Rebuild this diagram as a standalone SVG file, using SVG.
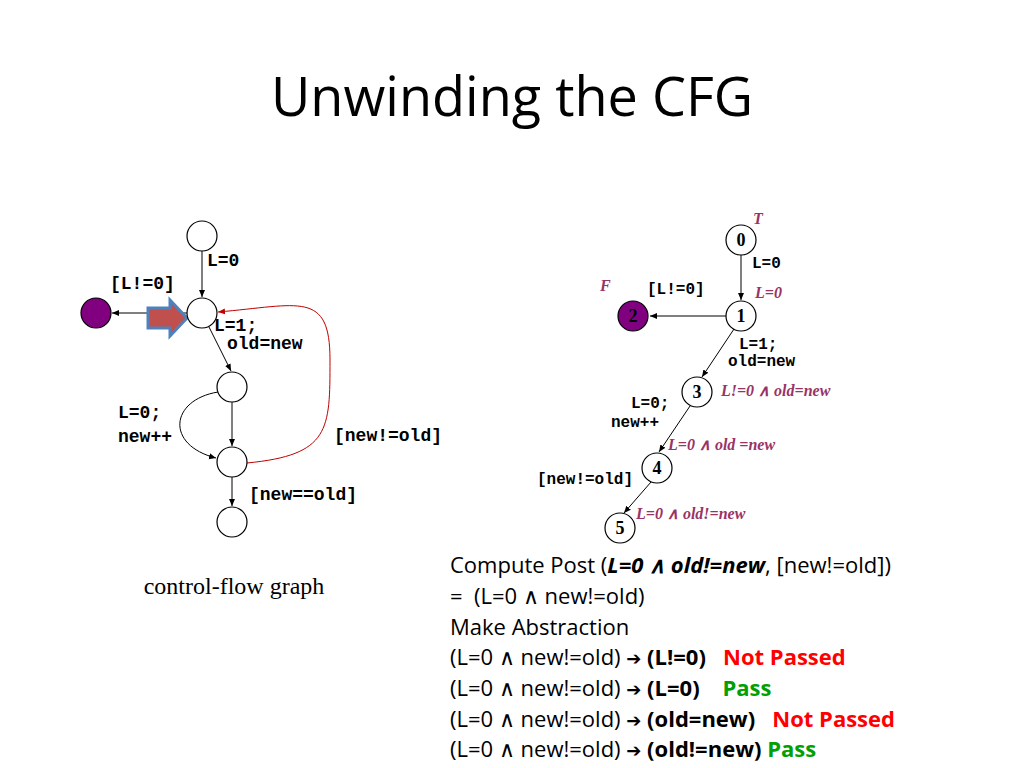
<svg xmlns="http://www.w3.org/2000/svg" width="1024" height="768" viewBox="0 0 1024 768">
<style>
.n{fill:#fff;stroke:#000;stroke-width:1.2}
.p{fill:#800080;stroke:#000;stroke-width:1.2}
.c{font-family:"Liberation Mono",monospace;font-weight:bold;font-size:18px}
.s{font-family:"Liberation Mono",monospace;font-weight:bold;font-size:16px}
.i{font-family:"Liberation Serif",serif;font-style:italic;font-weight:bold;font-size:16px;fill:#993366}
.d{font-family:"Liberation Serif",serif;font-weight:bold;font-size:18px;text-anchor:middle}
.t{font-family:"Open Sans","Liberation Sans",sans-serif;font-size:22px;white-space:pre}
.e{fill:none;stroke:#000;stroke-width:1}
.ar{font-family:"DejaVu Sans",sans-serif;font-weight:bold;font-size:18px}
</style>
<defs>
<marker id="a" markerWidth="8" markerHeight="8" refX="7" refY="4" orient="auto" markerUnits="userSpaceOnUse"><path d="M0,1 L7,4 L0,7 z" fill="#000"/></marker>
<marker id="r" markerWidth="8" markerHeight="8" refX="7" refY="4" orient="auto" markerUnits="userSpaceOnUse"><path d="M0,1 L7,4 L0,7 z" fill="#c00000"/></marker>
</defs>
<text x="512" y="116" text-anchor="middle" font-family="'Open Sans','Liberation Sans',sans-serif" font-size="54">Unwinding the CFG</text>
<g id="connectors">
<path class="e" d="M202,251 L202,297" marker-end="url(#a)"/>
<path class="e" d="M187,313 L112,313" marker-end="url(#a)"/>
<path class="e" d="M209,327 L231,371" marker-end="url(#a)"/>
<path class="e" d="M232,402 L232,446" marker-end="url(#a)"/>
<path class="e" d="M218,392 C170,400 165,445 216,458" marker-end="url(#a)"/>
<path class="e" d="M232,477 L232,506" marker-end="url(#a)"/>
<path d="M247,463 C330,455 330,430 330,360 C330,290 300,305 218,312" fill="none" stroke="#c00000" stroke-width="1" marker-end="url(#r)"/>
<path class="e" d="M741,255 L741,300" marker-end="url(#a)"/>
<path class="e" d="M726,316 L650,316" marker-end="url(#a)"/>
<path class="e" d="M734,329 L702,377" marker-end="url(#a)"/>
<path class="e" d="M690,406 L659,452" marker-end="url(#a)"/>
<path class="e" d="M651,482 L624,513" marker-end="url(#a)"/>
</g>
<path d="M148,308 L170,308 L170,300 L187,318 L170,336 L170,328 L148,328 z" fill="#c0504d" stroke="#4f81bd" stroke-width="3"/>
<g id="cfgA"><circle class="n" cx="202" cy="236" r="15"/></g>
<g id="cfgB"><circle class="n" cx="202" cy="313" r="15"/></g>
<g id="cfgErr"><circle class="p" cx="96" cy="313" r="15"/></g>
<g id="cfgC"><circle class="n" cx="232" cy="387" r="15"/></g>
<g id="cfgD"><circle class="n" cx="232" cy="462" r="15"/></g>
<g id="cfgE"><circle class="n" cx="232" cy="522" r="15"/></g>
<text class="c" x="207" y="266">L=0</text>
<text class="c" x="110" y="289">[L!=0]</text>
<text class="c" x="214" y="331">L=1;</text>
<text class="c" x="227" y="349">old=new</text>
<text class="c" x="118" y="418">L=0;</text>
<text class="c" x="118" y="442">new++</text>
<text class="c" x="334" y="441">[new!=old]</text>
<text class="c" x="249" y="500">[new==old]</text>
<text x="234" y="594" text-anchor="middle" font-family="'Liberation Serif',serif" font-size="24">control-flow graph</text>
<g id="n0"><circle class="n" cx="741" cy="240" r="15"/><text class="d" x="741" y="246">0</text></g>
<g id="n1"><circle class="n" cx="741" cy="316" r="15"/><text class="d" x="741" y="322">1</text></g>
<g id="n2"><circle class="p" cx="633" cy="316" r="15"/><text class="d" x="633" y="322">2</text></g>
<g id="n3"><circle class="n" cx="697" cy="392" r="15"/><text class="d" x="697" y="398">3</text></g>
<g id="n4"><circle class="n" cx="657" cy="468" r="15"/><text class="d" x="657" y="474">4</text></g>
<g id="n5"><circle class="n" cx="620" cy="528" r="15"/><text class="d" x="620" y="534">5</text></g>
<text class="i" x="753" y="224">T</text>
<text class="s" x="752" y="268">L=0</text>
<text class="i" x="600" y="291">F</text>
<text class="s" x="647" y="294">[L!=0]</text>
<text class="i" x="755" y="298">L=0</text>
<text class="s" x="739" y="349">L=1;</text>
<text class="s" x="728" y="366">old=new</text>
<text class="i" x="721" y="396">L!=0 ∧ old=new</text>
<text class="s" x="631" y="408">L=0;</text>
<text class="s" x="611" y="427">new++</text>
<text class="i" x="668" y="450">L=0 ∧ old =new</text>
<text class="s" x="537" y="484">[new!=old]</text>
<text class="i" x="636" y="519">L=0 ∧ old!=new</text>
<g class="t">
<text x="450" y="573">Compute Post (<tspan font-weight="bold" font-style="italic">L=0 ∧ old!=new</tspan>, [new!=old])</text>
<text x="450" y="604">=&#160; (L=0 ∧ new!=old)</text>
<text x="450" y="635">Make Abstraction</text>
<text x="450" y="665">(L=0 ∧ new!=old) <tspan class="ar">➔</tspan> <tspan font-weight="bold">(L!=0)</tspan>&#160;&#160; <tspan font-weight="bold" fill="#ff0000">Not Passed</tspan></text>
<text x="450" y="696">(L=0 ∧ new!=old) <tspan class="ar">➔</tspan> <tspan font-weight="bold">(L=0)</tspan>&#160;&#160;&#160; <tspan font-weight="bold" fill="#00a000">Pass</tspan></text>
<text x="450" y="727">(L=0 ∧ new!=old) <tspan class="ar">➔</tspan> <tspan font-weight="bold">(old=new)</tspan>&#160;&#160; <tspan font-weight="bold" fill="#ff0000">Not Passed</tspan></text>
<text x="450" y="757">(L=0 ∧ new!=old) <tspan class="ar">➔</tspan> <tspan font-weight="bold">(old!=new)</tspan> <tspan font-weight="bold" fill="#00a000">Pass</tspan></text>
</g>
</svg>
